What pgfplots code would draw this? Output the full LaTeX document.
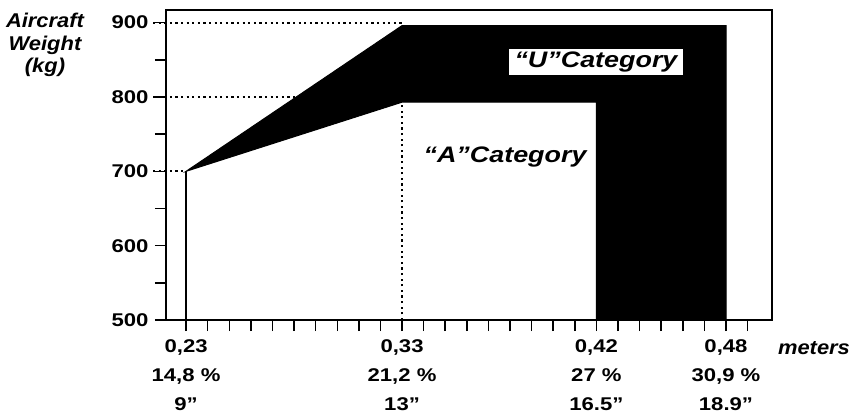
\documentclass[border=0pt]{standalone}
\usepackage{fontspec}
\setmainfont{Liberation Sans}
\usepackage{graphicx}
\usepackage{pgfplots}
\pgfplotsset{compat=1.18}
\newcommand\sx[1]{\scalebox{1.2}[1]{#1}}
\newcommand\sy[1]{\scalebox{1.1}[1]{#1}}
\begin{document}
\begin{tikzpicture}
\begin{axis}[name=ax, scale only axis, width=606bp, height=310bp,
  xmin=0.2207, xmax=0.5013, ymin=500, ymax=917,
  axis line style={line width=2bp},
  tick align=outside, xtick pos=bottom, ytick pos=left,
  major tick length=11bp, minor tick length=11bp,
  tick style={black, line width=1.5bp},
  minor tick style={black, line width=1.5bp},
  xtick={0.23,0.33,0.42,0.48},
  xticklabels={{\sx{0,23}\\\sx{14,8 \%}\\\sx{9"}},{\sx{0,33}\\\sx{21,2 \%}\\\sx{13"}},{\sx{0,42}\\\sx{27 \%}\\\sx{16.5"}},{\sx{0,48}\\\sx{30,9 \%}\\\sx{18.9"}}},
  minor xtick={0.24,0.25,0.26,0.27,0.28,0.29,0.30,0.31,0.32,0.34,0.35,0.36,0.37,0.38,0.39,0.40,0.41,0.43,0.44,0.45,0.46,0.47,0.49},
  ytick={500,600,700,800,900},
  yticklabels={\sx{500},\sx{600},\sx{700},\sx{800},\sx{900}},
  minor ytick={550,650,750,850},
  xticklabel style={align=center, font=\fontsize{18.5}{29}\selectfont\bfseries, yshift=-5bp},
  yticklabel style={font=\fontsize{18.5}{22}\selectfont\bfseries, xshift=-3bp},
  clip=false]
% U category (black band)
\addplot[fill=black, draw=black, line width=1bp] coordinates {(0.23,700) (0.33,896) (0.48,896) (0.48,500) (0.42,500) (0.42,793) (0.33,793) (0.23,700)} -- cycle;
% A category left edge
\addplot[black, line width=2bp] coordinates {(0.23,500) (0.23,700)};
% dotted guides
\addplot[black, line width=2bp, dash pattern=on 2.2bp off 3.4bp] coordinates {(0.2147,900) (0.33,900)};
\addplot[black, line width=2bp, dash pattern=on 2.2bp off 3.4bp] coordinates {(0.2147,800) (0.281,800)};
\addplot[black, line width=2bp, dash pattern=on 2.2bp off 3.4bp] coordinates {(0.2147,700) (0.23,700)};
\addplot[black, line width=2bp, dash pattern=on 2.2bp off 3.4bp] coordinates {(0.33,500) (0.33,793)};
% labels
\node[fill=white, inner xsep=6bp, inner ysep=3bp, font=\fontsize{22.5}{26}\selectfont\bfseries\itshape] at (axis cs:0.4198,847) {\sx{“U”Category}};
\node[font=\fontsize{22.5}{26}\selectfont\bfseries\itshape] at (axis cs:0.3777,719) {\sx{“A”Category}};
\node[align=center, font=\fontsize{20}{22.5}\selectfont\bfseries\itshape] at (rel axis cs:0,1) [xshift=-121bp, yshift=-35bp] {\sy{Aircraft}\\\sy{Weight}\\\sy{(kg)}};
\node[font=\fontsize{20}{22}\selectfont\bfseries\itshape] at (rel axis cs:1,0) [xshift=42bp, yshift=-28bp] {\sy{meters}};
\end{axis}
\pgfresetboundingbox
\path[use as bounding box] (ax.south west) ++(-166bp,-95bp) rectangle ([xshift=81bp, yshift=10bp]ax.north east);
\end{tikzpicture}
\end{document}
